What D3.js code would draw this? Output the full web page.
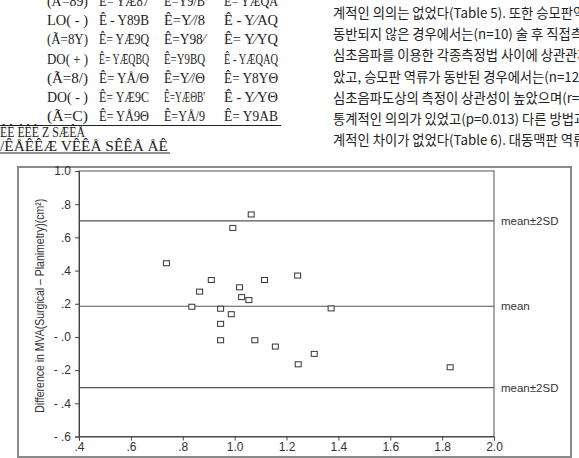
<!DOCTYPE html>
<html>
	<head>
		<meta charset="utf-8">
		<script src="https://cdn.jsdelivr.net/npm/d3@7"></script>
		<style>
			body { margin: 0; background: #fff; }
			svg { display: block; }
		</style>
	</head>
	<body> <svg width="579" height="458"></svg> </body>

	<script>
		// mean of MVA (x) vs difference surgical - planimetry (y)
		var meanMVA = [1.064, 0.993, 0.737, 0.910, 1.115, 1.243, 1.019, 0.865, 1.027, 1.055, 0.835,
			0.946, 1.372, 0.987, 0.946, 0.946, 1.078, 1.157, 1.307, 1.245, 1.831];
		var diffMVA = [0.738, 0.657, 0.444, 0.343, 0.343, 0.370, 0.299, 0.273, 0.240, 0.222, 0.182,
			0.170, 0.172, 0.137, 0.079, -0.020, -0.020, -0.058, -0.102, -0.165, -0.183];

		var refValues = [0.70, 0.185, -0.305],
			refLabels = ["mean\u00b12SD", "mean", "mean\u00b12SD"];

		var xTicks = [0.4, 0.6, 0.8, 1.0, 1.2, 1.4, 1.6, 1.8, 2.0],
			yTicks = [-0.6, -0.4, -0.2, 0.0, 0.2, 0.4, 0.6, 0.8, 1.0];

		// scanned table above the figure (broken glyphs, kept as they appear)
		var tableRows = [
			["(\u00c3=89)", "\u00ca=  Y\u00c687", "\u00ca=Y9/B", "\u00ca=  Y\u00c6QA"],
			["LO( - )", "\u00ca - Y89B", "\u00ca=Y\u2044/8", "\u00ca - Y\u2044AQ"],
			["(\u00c3=8Y)", "\u00ca=  Y\u00c69Q", "\u00ca=Y98\u2044", "\u00ca=  Y\u2044YQ"],
			["DO( + )", "\u00ca= Y\u00c6QBQ", "\u00ca=Y9BQ", "\u00ca - Y\u00c6QAQ"],
			["(\u00c3=8/)", "\u00ca=  Y\u00c5/\u0398", "\u00ca=Y\u2044/\u0398", "\u00ca=  Y8Y\u0398"],
			["DO( - )", "\u00ca= Y\u00c69C", "\u00ca=Y\u00c6\u0398B'", "\u00ca - Y\u2044Y\u0398"],
			["(\u00c3=C)", "\u00ca=  Y\u00c59\u0398", "\u00ca=Y\u00c5/9", "\u00ca=  Y9AB"]
		];
		var tableFoot = ["\u00ca\u00ca \u00ca\u00ca\u00ca Z S\u00c6\u00ca\u00c5", "/\u00ca\u00c5\u00ca\u00ca\u00c6 V\u00ca\u00ca\u00c5  S\u00ca\u00ca\u00c5  \u00c5\u00ca"];

		var bodyLines = [
			"계적인 의의는 없었다(Table 5). 또한 승모판역",
			"동반되지 않은 경우에서는(n=10) 술 후 직접측",
			"심초음파를 이용한 각종측정법 사이에 상관관계가",
			"았고, 승모판 역류가 동반된 경우에서는(n=12) 이",
			"심초음파도상의 측정이 상관성이 높았으며(r=0.6",
			"통계적인 의의가 있었고(p=0.013) 다른 방법과를",
			"계적인 차이가 없었다(Table 6). 대동맥판 역류가"
		];

		var svg = d3.select("svg");
		var frame = "#8a8a8a",
			plotL = 79, plotR = 494, plotT = 171, plotB = 436.5;

		// ---- text above the figure
		var colX = [47, 99, 164, 224],
			colW = [41, 50, 41, 54];
		var table = svg.append("g")
			.attr("font-family", "Liberation Serif, DejaVu Serif, serif")
			.attr("font-size", "14px")
			.attr("fill", "#222");
		tableRows.forEach(function(row, i) {
			row.forEach(function(cell, j) {
				table.append("text")
					.attr("x", colX[j])
					.attr("y", 6 + i * 19.2)
					.attr("textLength", colW[j])
					.attr("lengthAdjust", "spacingAndGlyphs")
					.text(cell);
			});
		});
		table.append("line")
			.attr("x1", 0).attr("x2", 281)
			.attr("y1", 125.5).attr("y2", 125.5)
			.attr("stroke", "#222").attr("stroke-width", 1.2);
		table.append("text").attr("x", 0).attr("y", 137)
			.attr("textLength", 85).attr("lengthAdjust", "spacingAndGlyphs")
			.text(tableFoot[0]);
		table.append("text").attr("x", 0).attr("y", 151)
			.attr("textLength", 168).attr("lengthAdjust", "spacingAndGlyphs")
			.text(tableFoot[1]);
		table.append("line")
			.attr("x1", 0).attr("x2", 170)
			.attr("y1", 153).attr("y2", 153)
			.attr("stroke", "#222").attr("stroke-width", 1);

		svg.append("g")
			.attr("font-family", "Noto Sans CJK KR, sans-serif")
			.attr("font-size", "13.3px")
			.attr("fill", "#222")
			.selectAll("text")
			.data(bodyLines)
			.join("text")
			.attr("x", 333)
			.attr("y", function(d, i) { return 18 + i * 21.2; })
			.text(function(d) { return d; });

		// ---- figure frame
		svg.append("rect")
			.attr("x", 18).attr("y", 167)
			.attr("width", 553).attr("height", 290)
			.attr("fill", "none")
			.attr("stroke", frame)
			.attr("stroke-width", 2);

		var x = d3.scaleLinear().domain([0.4, 2.0]).range([plotL, plotR]);
		var y = d3.scaleLinear().domain([-0.6, 1.0]).range([plotB, plotT]);

		// plot box
		svg.append("rect")
			.attr("x", plotL).attr("y", plotT)
			.attr("width", plotR - plotL).attr("height", plotB - plotT)
			.attr("fill", "none")
			.attr("stroke", "#555")
			.attr("stroke-width", 1);

		var xAxis = d3.axisBottom(x)
			.tickValues(xTicks)
			.tickSize(4)
			.tickFormat(function(v) { return v < 1 ? d3.format(".1f")(v).slice(1) : d3.format(".1f")(v); });
		var yAxis = d3.axisLeft(y)
			.tickValues(yTicks)
			.tickSize(4)
			.tickFormat(function(v) {
				if (v >= 1) return "1.0";
				var s = d3.format(".1f")(Math.abs(v)).slice(1);
				return v <= 0 ? "- " + s : s;
			});

		var gx = svg.append("g")
			.attr("transform", "translate(0," + plotB + ")")
			.call(xAxis);
		var gy = svg.append("g")
			.attr("transform", "translate(" + plotL + ",0)")
			.call(yAxis);
		[gx, gy].forEach(function(g) {
			g.select(".domain").attr("stroke", "#444");
			g.selectAll(".tick line").attr("stroke", "#444");
			g.selectAll(".tick text")
				.attr("font-family", "Liberation Sans, Arial, sans-serif")
				.attr("font-size", "12px")
				.attr("fill", "#333");
		});
		gy.selectAll(".tick text").attr("x", -8);
		gx.selectAll(".tick text").attr("y", 6);

		// axis title
		svg.append("text")
			.attr("transform", "translate(44," + ((plotT + plotB) / 2 + 2) + ") rotate(-90)")
			.attr("text-anchor", "middle")
			.attr("font-family", "Liberation Sans, Arial, sans-serif")
			.attr("font-size", "12px")
			.attr("fill", "#333")
			.attr("textLength", 214)
			.attr("lengthAdjust", "spacingAndGlyphs")
			.text("Difference  in  MVA(Surgical \u2013 Planimetry)(cm\u00b2)");

		// mean and limits of agreement
		svg.append("g").selectAll("line")
			.data(refValues)
			.join("line")
			.attr("x1", plotL).attr("x2", plotR)
			.attr("y1", function(d) { return y(d); })
			.attr("y2", function(d) { return y(d); })
			.attr("stroke", "#555")
			.attr("stroke-width", 1.2);

		svg.append("g").selectAll("text")
			.data(refValues)
			.join("text")
			.attr("x", plotR + 7)
			.attr("y", function(d) { return y(d) + 4; })
			.attr("font-family", "Liberation Sans, Arial, sans-serif")
			.attr("font-size", "11.5px")
			.attr("fill", "#333")
			.text(function(d, i) { return refLabels[i]; });

		// points
		svg.append("g").selectAll("rect")
			.data(meanMVA)
			.join("rect")
			.attr("x", function(d) { return x(d) - 3; })
			.attr("y", function(d, i) { return y(diffMVA[i]) - 2.5; })
			.attr("width", 6)
			.attr("height", 5)
			.attr("fill", "#fff")
			.attr("stroke", "#333")
			.attr("stroke-width", 1);
	</script>
</html>
